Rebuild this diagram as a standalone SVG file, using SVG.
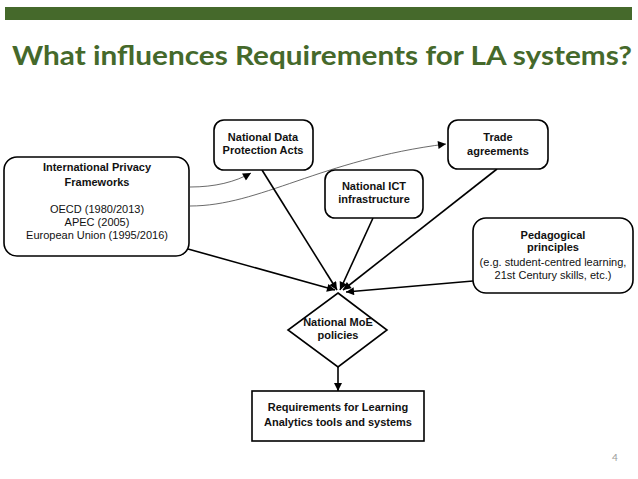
<svg xmlns="http://www.w3.org/2000/svg" width="638" height="479" viewBox="0 0 638 479">
<style>
.box{fill:#fff;stroke:#000;stroke-width:1.6}
.b{font-family:"Liberation Sans",Arial,sans-serif;font-size:11px;font-weight:bold;fill:#111;text-anchor:middle}
.r{font-family:"Liberation Sans",Arial,sans-serif;font-size:11px;fill:#111;text-anchor:middle}
.e{fill:none;stroke:#000;stroke-width:1.6}
.c{fill:none;stroke:#444;stroke-width:0.8}
</style>
<defs>
<marker id="ah" viewBox="0 0 10 10" refX="10" refY="5" markerWidth="10" markerHeight="8" markerUnits="userSpaceOnUse" orient="auto">
<path d="M0,0 L10,5 L0,10 Z" fill="#000"/>
</marker>
</defs>
<rect x="5" y="7" width="627" height="13" fill="#45692b"/>
<text x="12" y="65" font-family="Lato,'Open Sans',sans-serif" font-weight="bold" font-size="27" fill="#45692b" textLength="620" lengthAdjust="spacingAndGlyphs">What influences Requirements for LA systems?</text>

<g id="connectors">
<path class="c" d="M190,187 C215,187 235,182 251,173" marker-end="url(#ah)"/>
<path class="c" d="M190,206 C260,206 320,160 446,144" marker-end="url(#ah)"/>
<line class="e" x1="188" y1="249" x2="335" y2="290" marker-end="url(#ah)"/>
<line class="e" x1="262" y1="170" x2="337" y2="290" marker-end="url(#ah)"/>
<line class="e" x1="373" y1="218" x2="340" y2="290" marker-end="url(#ah)"/>
<line class="e" x1="497" y1="169" x2="343" y2="290" marker-end="url(#ah)"/>
<line class="e" x1="473" y1="281" x2="346" y2="292" marker-end="url(#ah)"/>
<line class="e" x1="338" y1="367" x2="338" y2="391" marker-end="url(#ah)"/>
</g>

<g id="ipf">
<rect class="box" x="4" y="157" width="185" height="99" rx="13"/>
<text class="b" x="97" y="171">International Privacy</text>
<text class="b" x="97" y="186">Frameworks</text>
<text class="r" x="97" y="213">OECD (1980/2013)</text>
<text class="r" x="97" y="226">APEC (2005)</text>
<text class="r" x="97" y="239">European Union (1995/2016)</text>
</g>
<g id="ndpa">
<rect class="box" x="214" y="120" width="99" height="50" rx="10"/>
<text class="b" x="263" y="141">National Data</text>
<text class="b" x="263" y="154">Protection Acts</text>
</g>
<g id="trade">
<rect class="box" x="448" y="120" width="100" height="49" rx="10"/>
<text class="b" x="498" y="141">Trade</text>
<text class="b" x="498" y="155">agreements</text>
</g>
<g id="ict">
<rect class="box" x="325" y="170" width="98" height="48" rx="10"/>
<text class="b" x="374" y="190">National ICT</text>
<text class="b" x="374" y="203">infrastructure</text>
</g>
<g id="ped">
<rect class="box" x="473" y="218" width="160" height="75" rx="13"/>
<text class="b" x="553" y="239">Pedagogical</text>
<text class="b" x="553" y="251">principles</text>
<text class="r" x="553" y="266">(e.g. student-centred learning,</text>
<text class="r" x="553" y="279">21st Century skills, etc.)</text>
</g>
<g id="moe">
<path class="box" d="M338,293 L387,330 L338,367 L288,330 Z"/>
<text class="b" x="338" y="326">National MoE</text>
<text class="b" x="338" y="339">policies</text>
</g>
<g id="req">
<rect class="box" x="252" y="391" width="172" height="50"/>
<text class="b" x="338" y="411">Requirements for Learning</text>
<text class="b" x="338" y="426">Analytics tools and systems</text>
</g>
<text x="615" y="461" font-family="Lato,'Liberation Sans',sans-serif" font-size="10" fill="#999" text-anchor="middle">4</text>
</svg>
